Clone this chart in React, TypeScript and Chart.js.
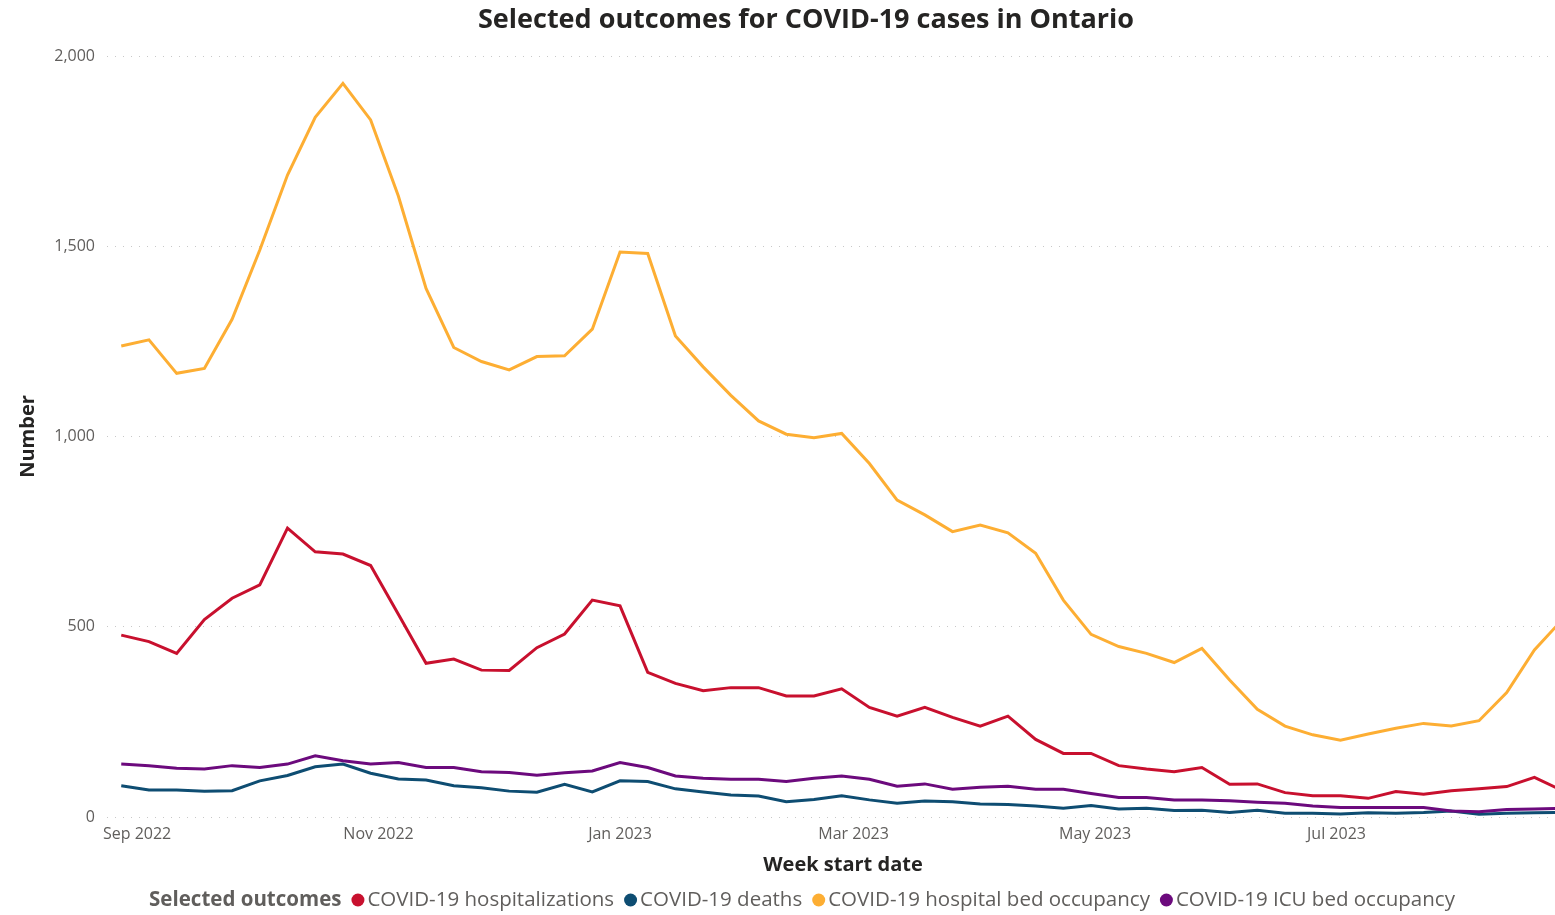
import React, { useEffect, useRef } from "react";
import { Chart, registerables } from "chart.js";

Chart.register(...registerables);

const TITLE = "Selected outcomes for COVID-19 cases in Ontario";
const X_TITLE = "Week start date";
const Y_TITLE = "Number";
const LEGEND_TITLE = "Selected outcomes";

const WEEK_STARTS = [
  "2022-08-28", "2022-09-04", "2022-09-11", "2022-09-18", "2022-09-25",
  "2022-10-02", "2022-10-09", "2022-10-16", "2022-10-23", "2022-10-30",
  "2022-11-06", "2022-11-13", "2022-11-20", "2022-11-27",
  "2022-12-04", "2022-12-11", "2022-12-18", "2022-12-25",
  "2023-01-01", "2023-01-08", "2023-01-15", "2023-01-22", "2023-01-29",
  "2023-02-05", "2023-02-12", "2023-02-19", "2023-02-26",
  "2023-03-05", "2023-03-12", "2023-03-19", "2023-03-26",
  "2023-04-02", "2023-04-09", "2023-04-16", "2023-04-23", "2023-04-30",
  "2023-05-07", "2023-05-14", "2023-05-21", "2023-05-28",
  "2023-06-04", "2023-06-11", "2023-06-18", "2023-06-25",
  "2023-07-02", "2023-07-09", "2023-07-16", "2023-07-23", "2023-07-30",
  "2023-08-06", "2023-08-13", "2023-08-20", "2023-08-27",
];

const HOSPITALIZATIONS = [
  478, 461, 430, 519, 575, 610, 759, 697, 691, 661,
  533, 404, 415, 386, 385, 445, 481, 570, 555, 380,
  351, 332, 340, 340, 318, 318, 337, 288, 265, 288,
  262, 239, 265, 204, 167, 167, 135, 126, 119, 130,
  86, 87, 64, 56, 56, 49, 67, 60, 69, 74,
  80, 104, 70,
];

const DEATHS = [
  82, 71, 71, 68, 69, 95, 109, 132, 139, 115,
  100, 97, 82, 77, 68, 65, 86, 66, 95, 93,
  74, 66, 58, 55, 40, 46, 56, 45, 36, 42,
  40, 34, 33, 29, 23, 30, 21, 23, 17, 18,
  12, 18, 10, 10, 8, 11, 10, 12, 16, 7,
  10, 11, 12,
];

const BED_OCCUPANCY = [
  1238, 1254, 1166, 1179, 1308, 1490, 1687, 1839, 1928, 1832,
  1632, 1389, 1234, 1197, 1175, 1210, 1212, 1282, 1485, 1481,
  1264, 1183, 1108, 1041, 1006, 997, 1008, 929, 833, 794,
  750, 767, 747, 693, 570, 480, 448, 430, 406, 443,
  360, 283, 239, 216, 202, 218, 233, 246, 239, 253,
  327, 439, 518,
];

const ICU_OCCUPANCY = [
  139, 135, 128, 126, 135, 130, 139, 161, 148, 139,
  143, 130, 130, 119, 117, 110, 116, 121, 143, 130,
  108, 102, 99, 99, 93, 102, 108, 99, 81, 87,
  73, 78, 81, 73, 73, 62, 51, 51, 45, 45,
  43, 39, 36, 29, 25, 25, 25, 25, 16, 14,
  20, 21, 23,
];

const SERIES_LABELS = [
  "COVID-19 hospitalizations",
  "COVID-19 deaths",
  "COVID-19 hospital bed occupancy",
  "COVID-19 ICU bed occupancy",
];
const SERIES_COLORS = ["#C8102E", "#0E4D72", "#FDAE33", "#6C0A7D"];

const TICK_DATES = ["2022-09-01", "2022-11-01", "2023-01-01", "2023-03-01", "2023-05-01", "2023-07-01"];
const TICK_LABELS = ["Sep 2022", "Nov 2022", "Jan 2023", "Mar 2023", "May 2023", "Jul 2023"];
const Y_TICKS = [0, 500, 1000, 1500, 2000];

const DAY = 86400000;
const ORIGIN = Date.parse(WEEK_STARTS[0] + "T00:00:00Z");
const toDay = (iso: string) => (Date.parse(iso + "T00:00:00Z") - ORIGIN) / DAY;

const FONT = '"Segoe UI", "Open Sans", "DejaVu Sans", sans-serif';

const textPlugin = {
  id: "textPlugin",
  afterDraw(chart: any) {
    const ctx = chart.ctx as CanvasRenderingContext2D;
    ctx.save();
    ctx.textBaseline = "middle";
    // Title
    ctx.font = `bold 27px ${FONT}`;
    ctx.fillStyle = "#252423";
    ctx.textAlign = "center";
    ctx.fillText(TITLE, 806, 20);

    // X axis title
    ctx.font = `bold 20px ${FONT}`;
    ctx.fillText(X_TITLE, 843, 865);

    // Legend
    const y = 900;
    ctx.textAlign = "left";
    const titleFont = `bold 20.5px ${FONT}`;
    const itemFont = `20.5px ${FONT}`;
    ctx.font = titleFont;
    const titleW = ctx.measureText(LEGEND_TITLE).width;
    ctx.font = itemFont;
    const items = chart.data.datasets.map((d: any) => ({
      label: d.label as string,
      color: d.borderColor as string,
      w: ctx.measureText(d.label).width,
    }));
    const dot = 13;
    const gapBefore = 10;
    const gapAfter = 3;
    let total = titleW;
    items.forEach((it: any) => (total += gapBefore + dot + gapAfter + it.w));
    let x = 802 - total / 2;
    ctx.font = titleFont;
    ctx.fillStyle = "#605E5C";
    ctx.fillText(LEGEND_TITLE, x, y);
    x += titleW;
    ctx.font = itemFont;
    items.forEach((it: any) => {
      x += gapBefore;
      ctx.beginPath();
      ctx.arc(x + dot / 2, y, dot / 2, 0, Math.PI * 2);
      ctx.fillStyle = it.color;
      ctx.fill();
      x += dot + gapAfter;
      ctx.fillStyle = "#605E5C";
      ctx.fillText(it.label, x, y);
      x += it.w;
    });
    ctx.restore();
  },
};

export default function App() {
  const ref = useRef<HTMLCanvasElement | null>(null);

  useEffect(() => {
    document.body.style.margin = "0";
    const canvas = ref.current;
    if (!canvas) return;
    const xs = WEEK_STARTS.map(toDay);
    const seriesValues = [HOSPITALIZATIONS, DEATHS, BED_OCCUPANCY, ICU_OCCUPANCY];
    const orders = [3, 2, 1, 0];
    const datasets = seriesValues.map((vals, i) => ({
      label: SERIES_LABELS[i],
      data: vals.map((v, j) => ({ x: xs[j], y: v })),
      borderColor: SERIES_COLORS[i],
      backgroundColor: SERIES_COLORS[i],
      borderWidth: 3,
      pointRadius: 0,
      tension: 0,
      order: orders[i],
    }));
    const tickDays = TICK_DATES.map(toDay);

    const chart = new Chart(canvas, {
      type: "line",
      data: { datasets },
      plugins: [textPlugin],
      options: {
        animation: false,
        responsive: false,
        devicePixelRatio: 1,
        layout: { padding: { top: 56, bottom: 35, left: 0, right: 0 } },
        plugins: {
          legend: { display: false },
          title: { display: false },
          tooltip: { enabled: false },
        },
        scales: {
          x: {
            type: "linear",
            min: -3.6,
            max: 362.2,
            afterFit: (s: any) => {
              s.height = 63;
            },
            afterBuildTicks: (s: any) => {
              s.ticks = tickDays.map((v) => ({ value: v }));
            },
            grid: { display: false, drawTicks: false },
            border: { display: false },
            ticks: {
              padding: 8,
              color: "#605E5C",
              font: { size: 16, family: FONT },
              maxRotation: 0,
              autoSkip: false,
              callback: (v: any) => {
                const idx = tickDays.indexOf(Number(v));
                return idx >= 0 ? TICK_LABELS[idx] : "";
              },
            },
            title: { display: false },
          },
          y: {
            min: 0,
            max: 2000,
            afterFit: (s: any) => {
              s.width = 107;
            },
            afterBuildTicks: (s: any) => {
              s.ticks = Y_TICKS.map((v) => ({ value: v }));
            },
            grid: { color: "#C8C8C8", lineWidth: 1, drawTicks: false },
            border: { display: false, dash: [1, 7] },
            ticks: {
              padding: 12,
              color: "#605E5C",
              font: { size: 16, family: FONT },
              callback: (v: any) => Number(v).toLocaleString("en-US"),
            },
            title: {
              display: true,
              text: Y_TITLE,
              color: "#252423",
              font: { size: 20, weight: "bold", family: FONT },
              padding: { top: 16, bottom: 0 },
            },
          },
        },
      },
    } as any);
    return () => chart.destroy();
  }, []);

  return <canvas ref={ref} width={1555} height={915} style={{ display: "block" }} />;
}
